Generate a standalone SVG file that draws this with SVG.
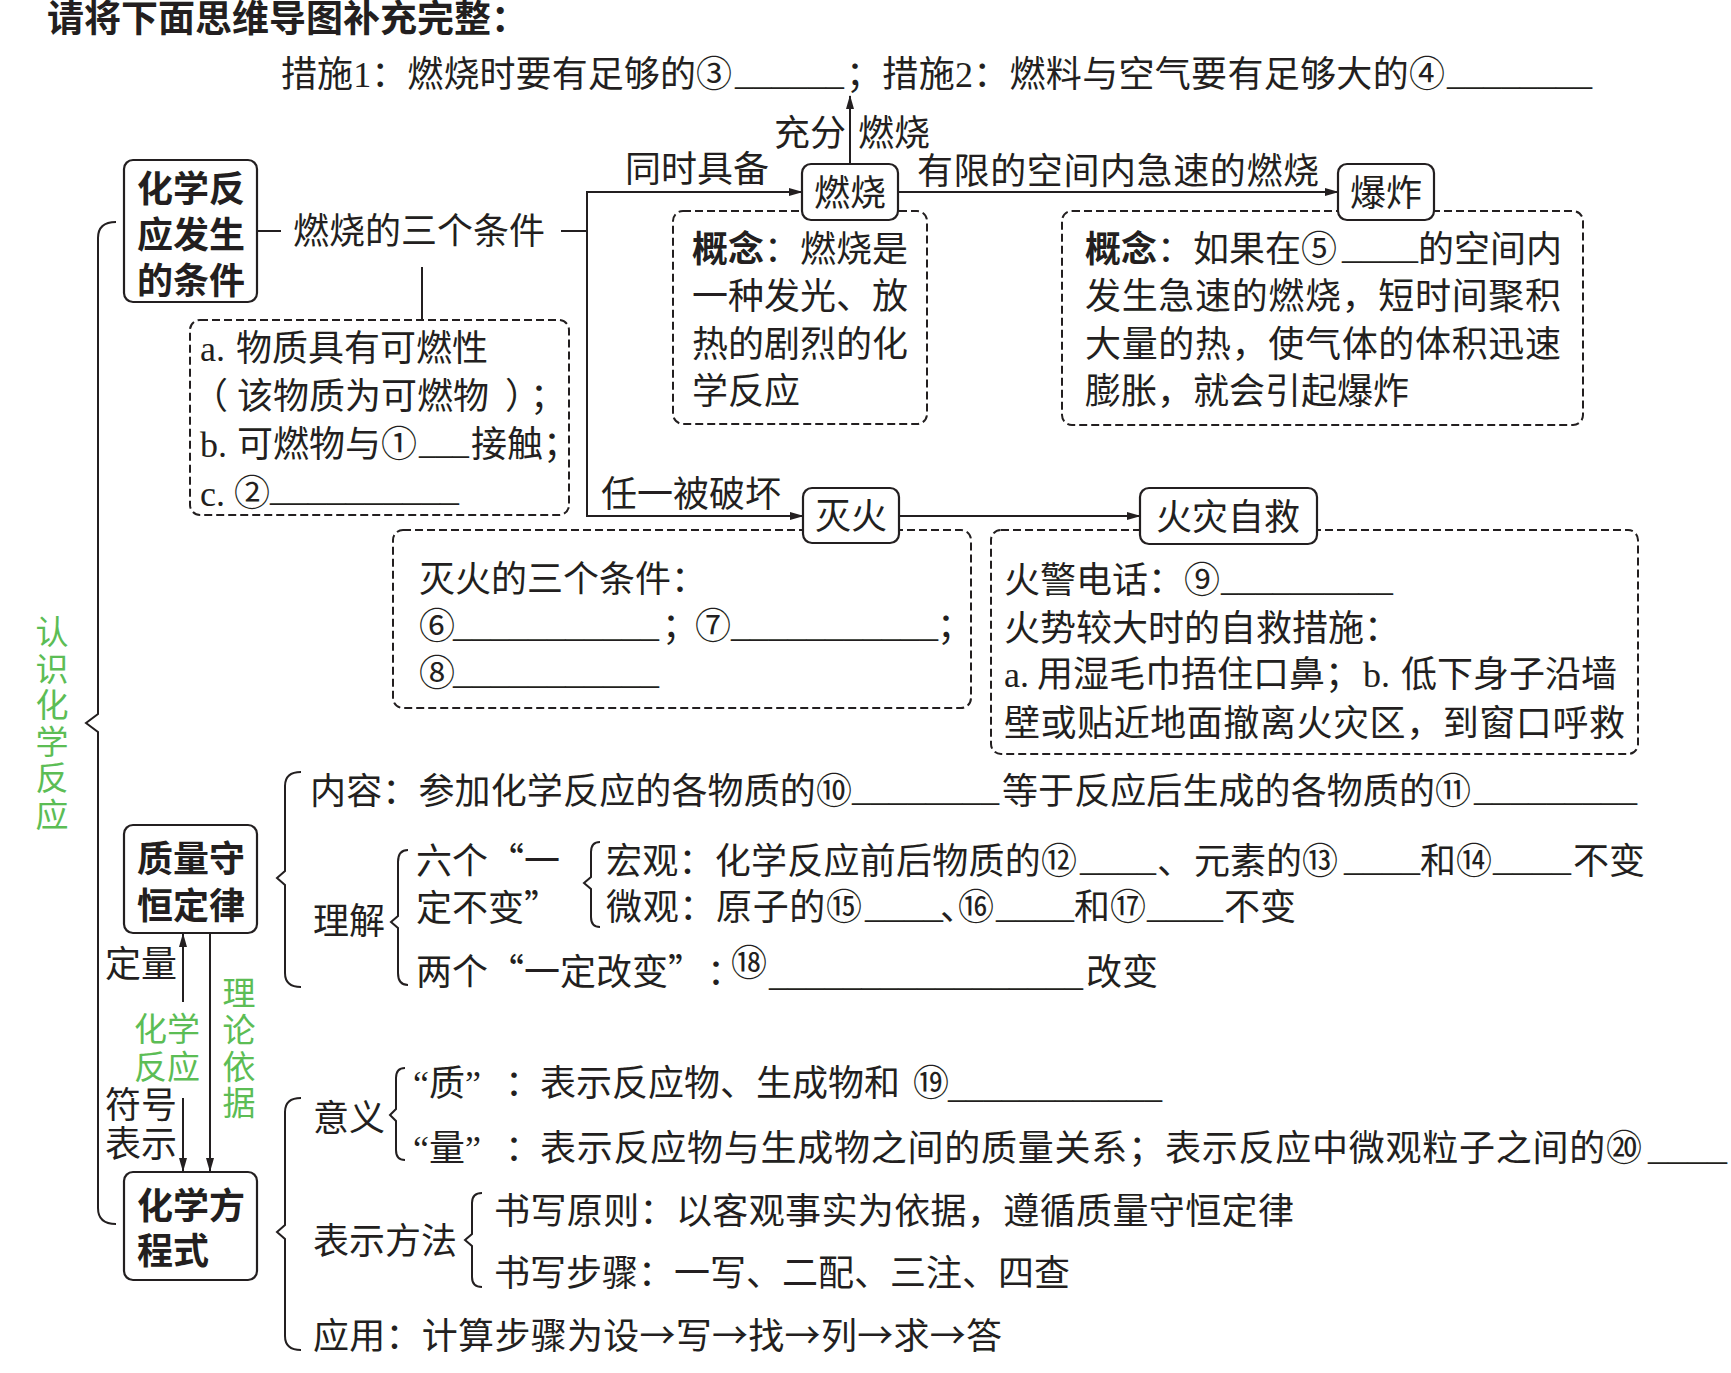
<svg xmlns="http://www.w3.org/2000/svg" width="1731" height="1373" viewBox="0 0 1731 1373">
<defs>
<style>
.t{font-family:"Noto Sans CJK SC","Noto Sans CJK JP",sans-serif;font-size:36px;fill:#231f20}
.bd{font-weight:bold}
.l{font-family:"Liberation Serif",serif}
.u{font-family:"Liberation Serif",serif;font-size:36px;fill:#231f20}
.g{font-family:"Noto Sans CJK SC",sans-serif;font-size:33px;fill:#5cbd55}
.node{fill:#fff;stroke:#231f20;stroke-width:2.2}
.dash{fill:none;stroke:#231f20;stroke-width:2;stroke-dasharray:8 4}
.ln{fill:none;stroke:#231f20;stroke-width:2}
.arr{marker-end:url(#ah)}
</style>
<marker id="ah" viewBox="0 0 14 8" refX="13" refY="4" markerWidth="14" markerHeight="8" orient="auto" markerUnits="userSpaceOnUse"><path d="M0,0 L14,4 L0,8 z" fill="#231f20"/></marker>
</defs>
<rect width="1731" height="1373" fill="#fff"/>

<g id="title">
<text class="t bd" x="47" y="32" style="font-size:37px">请将下面思维导图补充完整：</text>
</g>

<g id="measures">
<text class="t" x="281" y="87" textLength="451">措施<tspan class="l">1</tspan>：燃烧时要有足够的③</text>
<text class="u" x="735" y="83.5" textLength="109" lengthAdjust="spacingAndGlyphs">______</text>
<text class="t" x="846" y="87" textLength="599">；措施<tspan class="l">2</tspan>：燃料与空气要有足够大的④</text>
<text class="u" x="1447" y="83.5" textLength="145" lengthAdjust="spacingAndGlyphs">________</text>
</g>

<!-- dashed annotation boxes -->
<g id="box-conditions">
<rect class="dash" x="190" y="320" width="379" height="195" rx="10"/>
<text class="t" x="200" y="361"><tspan class="l">a.</tspan><tspan x="236">物质具有可燃性</tspan></text>
<text class="t" x="192" y="409">（<tspan x="237">该物质为可燃物</tspan><tspan x="505">）</tspan><tspan x="530">；</tspan></text>
<text class="t" x="200" y="457"><tspan class="l">b.</tspan><tspan x="237">可燃物与①</tspan><tspan x="471">接触；</tspan></text>
<text class="u" x="419" y="453" textLength="50" lengthAdjust="spacingAndGlyphs">___</text>
<text class="t" x="200" y="506"><tspan class="l">c.</tspan><tspan x="234">②</tspan></text>
<text class="u" x="270" y="499.5" textLength="189" lengthAdjust="spacingAndGlyphs">__________</text>
</g>

<g id="box-burn-concept">
<rect class="dash" x="673" y="211" width="254" height="213" rx="10"/>
<text class="t" x="692" y="262"><tspan class="bd">概念</tspan>：燃烧是</text>
<text class="t" x="692" y="309">一种发光、放</text>
<text class="t" x="692" y="357">热的剧烈的化</text>
<text class="t" x="692" y="404">学反应</text>
</g>

<g id="box-explosion-concept">
<rect class="dash" x="1062" y="211" width="521" height="214" rx="10"/>
<text class="t" x="1085" y="262"><tspan class="bd">概念</tspan>：如果在⑤<tspan x="1418">的空间内</tspan></text>
<text class="u" x="1342" y="258" textLength="76" lengthAdjust="spacingAndGlyphs">____</text>
<text class="t" x="1085" y="309" textLength="476">发生急速的燃烧，短时间聚积</text>
<text class="t" x="1085" y="357" textLength="476">大量的热，使气体的体积迅速</text>
<text class="t" x="1085" y="404">膨胀，就会引起爆炸</text>
</g>

<g id="box-extinguish-conditions">
<rect class="dash" x="393" y="530" width="578" height="178" rx="10"/>
<text class="t" x="419" y="592">灭火的三个条件：</text>
<text class="t" x="419" y="639">⑥<tspan x="662">；</tspan><tspan x="695">⑦</tspan><tspan x="937">；</tspan></text>
<text class="u" x="453" y="636" textLength="206" lengthAdjust="spacingAndGlyphs">___________</text>
<text class="u" x="731" y="636" textLength="207" lengthAdjust="spacingAndGlyphs">___________</text>
<text class="t" x="419" y="686">⑧</text>
<text class="u" x="453" y="683" textLength="206" lengthAdjust="spacingAndGlyphs">___________</text>
</g>

<g id="box-self-rescue">
<rect class="dash" x="991" y="530" width="647" height="224" rx="10"/>
<text class="t" x="1004" y="593">火警电话：⑨</text>
<text class="u" x="1221" y="589.5" textLength="172" lengthAdjust="spacingAndGlyphs">__________</text>
<text class="t" x="1004" y="641">火势较大时的自救措施：</text>
<text class="t" x="1004" y="687"><tspan class="l">a.</tspan><tspan x="1037">用湿毛巾捂住口鼻；</tspan><tspan class="l" x="1363">b.</tspan><tspan x="1401">低下身子沿墙</tspan></text>
<text class="t" x="1004" y="736" textLength="621">壁或贴近地面撤离火灾区，到窗口呼救</text>
</g>

<!-- connectors -->
<g id="connectors">
<path class="ln" d="M116,222 Q98,222 98,238 L98,714 L86,723 L98,732 L98,1208 Q98,1224 116,1224"/>
<line class="ln" x1="257" y1="231" x2="281" y2="231"/>
<line class="ln" x1="561" y1="231" x2="587" y2="231"/>
<line class="ln" x1="422" y1="267" x2="422" y2="320"/>
<line class="ln" x1="587" y1="191" x2="587" y2="517"/>
<line class="ln arr" x1="586" y1="192" x2="802" y2="192"/>
<line class="ln arr" x1="586" y1="516" x2="803" y2="516"/>
<line class="ln arr" x1="850" y1="164" x2="850" y2="96"/>
<line class="ln arr" x1="898" y1="192" x2="1338" y2="192"/>
<line class="ln arr" x1="899" y1="516" x2="1140" y2="516"/>
<line class="ln arr" x1="183" y1="1002" x2="183" y2="934"/>
<line class="ln arr" x1="183" y1="1098" x2="183" y2="1171"/>
<line class="ln arr" x1="210" y1="933" x2="210" y2="1171"/>
<path class="ln" d="M301,772 Q285,772 285,786 L285,871 L277,878 L285,885 L285,973 Q285,987 301,987"/>
<path class="ln" d="M408,850 Q398,850 398,862 L398,916 L391,922 L398,928 L398,973 Q398,985 408,985"/>
<path class="ln" d="M600,842 Q591,842 591,852 L591,877 L584,883 L591,889 L591,917 Q591,927 600,927"/>
<path class="ln" d="M301,1098 Q285,1098 285,1112 L285,1225 L277,1232 L285,1239 L285,1336 Q285,1350 301,1350"/>
<path class="ln" d="M405,1068 Q396,1068 396,1078 L396,1109 L390,1115 L396,1121 L396,1150 Q396,1160 405,1160"/>
<path class="ln" d="M482,1193 Q472,1193 472,1203 L472,1234 L465,1240 L472,1246 L472,1277 Q472,1287 482,1287"/>
<text class="t" x="774" y="146">充分</text>
<text class="t" x="858" y="146">燃烧</text>
<text class="t" x="625" y="182">同时具备</text>
<text class="t" x="917" y="184" textLength="402">有限的空间内急速的燃烧</text>
<text class="t" x="601" y="507">任一被破坏</text>
<text class="t" x="105" y="977">定量</text>
<text class="t" x="105" y="1118">符号</text>
<text class="t" x="105" y="1157">表示</text>
<text class="g" x="167" y="1041" text-anchor="middle">化学</text>
<text class="g" x="167" y="1079" text-anchor="middle">反应</text>
<text class="g" x="239" text-anchor="middle"><tspan x="239" y="1005">理</tspan><tspan x="239" y="1042">论</tspan><tspan x="239" y="1079">依</tspan><tspan x="239" y="1115">据</tspan></text>
</g>

<g id="root-label">
<text class="g" text-anchor="middle"><tspan x="52" y="644">认</tspan><tspan x="52" y="681">识</tspan><tspan x="52" y="717">化</tspan><tspan x="52" y="754">学</tspan><tspan x="52" y="790">反</tspan><tspan x="52" y="827">应</tspan></text>
</g>

<!-- nodes -->
<g id="node-conditions">
<rect class="node" x="124" y="160" width="133" height="142" rx="9"/>
<text class="t bd" x="137" y="202">化学反</text>
<text class="t bd" x="137" y="248">应发生</text>
<text class="t bd" x="137" y="294">的条件</text>
</g>
<g id="node-three-conditions">
<text class="t" x="293" y="244">燃烧的三个条件</text>
</g>
<g id="node-burn">
<rect class="node" x="802" y="164" width="96" height="56" rx="9"/>
<text class="t" x="850" y="206" text-anchor="middle">燃烧</text>
</g>
<g id="node-explosion">
<rect class="node" x="1338" y="164" width="96" height="56" rx="9"/>
<text class="t" x="1386" y="206" text-anchor="middle">爆炸</text>
</g>
<g id="node-extinguish">
<rect class="node" x="803" y="488" width="96" height="55" rx="9"/>
<text class="t" x="851" y="529" text-anchor="middle">灭火</text>
</g>
<g id="node-self-rescue">
<rect class="node" x="1140" y="488" width="177" height="56" rx="9"/>
<text class="t" x="1228" y="530" text-anchor="middle">火灾自救</text>
</g>
<g id="node-mass">
<rect class="node" x="124" y="825" width="133" height="108" rx="9"/>
<text class="t bd" x="137" y="872">质量守</text>
<text class="t bd" x="137" y="919">恒定律</text>
</g>
<g id="node-equation">
<rect class="node" x="124" y="1172" width="133" height="108" rx="9"/>
<text class="t bd" x="137" y="1219">化学方</text>
<text class="t bd" x="137" y="1264">程式</text>
</g>

<g id="mass-content">
<text class="t" x="310" y="804" textLength="542">内容：参加化学反应的各物质的⑩</text>
<text class="u" x="852" y="799.5" textLength="147" lengthAdjust="spacingAndGlyphs">________</text>
<text class="t" x="1002" y="804" textLength="469">等于反应后生成的各物质的⑪</text>
<text class="u" x="1474" y="799.5" textLength="163" lengthAdjust="spacingAndGlyphs">_________</text>
</g>

<g id="mass-understand">
<text class="t" x="313" y="934">理解</text>
<text class="t" x="416" y="874">六个“一</text>
<text class="t" x="416" y="921">定不变”</text>
<text class="t" x="606" y="874"><tspan textLength="471">宏观：化学反应前后物质的⑫</tspan><tspan x="1157">、</tspan><tspan x="1194">元素的⑬</tspan><tspan x="1420">和⑭</tspan><tspan x="1573">不变</tspan></text>
<text class="u" x="1080" y="869.5" textLength="76" lengthAdjust="spacingAndGlyphs">____</text>
<text class="u" x="1344" y="869.5" textLength="76" lengthAdjust="spacingAndGlyphs">____</text>
<text class="u" x="1493" y="869.5" textLength="78" lengthAdjust="spacingAndGlyphs">____</text>
<text class="t" x="606" y="920"><tspan textLength="256">微观：原子的⑮</tspan><tspan x="940">、</tspan><tspan x="958">⑯</tspan><tspan x="1074">和⑰</tspan><tspan x="1224">不变</tspan></text>
<text class="u" x="865" y="916.5" textLength="78" lengthAdjust="spacingAndGlyphs">____</text>
<text class="u" x="996" y="916.5" textLength="78" lengthAdjust="spacingAndGlyphs">____</text>
<text class="u" x="1147" y="916.5" textLength="76" lengthAdjust="spacingAndGlyphs">____</text>
<text class="t" x="416" y="985">两个“一定改变”<tspan x="707">：</tspan><tspan x="731" y="976">⑱</tspan><tspan x="1086" y="985">改变</tspan></text>
<text class="u" x="769" y="984.5" textLength="314" lengthAdjust="spacingAndGlyphs">_________________</text>
</g>

<g id="eq-meaning">
<text class="t" x="313" y="1131">意义</text>
<text class="t" x="413" y="1096"><tspan class="l">“</tspan>质<tspan class="l">”</tspan><tspan x="505">：</tspan><tspan x="540">表示反应物、生成物和</tspan><tspan x="913">⑲</tspan></text>
<text class="u" x="948" y="1096.5" textLength="214" lengthAdjust="spacingAndGlyphs">____________</text>
<text class="t" x="413" y="1161"><tspan class="l">“</tspan>量<tspan class="l">”</tspan><tspan x="505">：</tspan><tspan x="540" textLength="1102">表示反应物与生成物之间的质量关系；表示反应中微观粒子之间的⑳</tspan></text>
<text class="u" x="1648" y="1158.5" textLength="79" lengthAdjust="spacingAndGlyphs">____</text>
</g>

<g id="eq-method">
<text class="t" x="313" y="1254">表示方法</text>
<text class="t" x="494" y="1224" textLength="800">书写原则：以客观事实为依据，遵循质量守恒定律</text>
<text class="t" x="494" y="1286">书写步骤：一写、二配、三注、四查</text>
</g>

<g id="eq-apply">
<text class="t" x="313" y="1349" textLength="689">应用：计算步骤为设→写→找→列→求→答</text>
</g>
</svg>
